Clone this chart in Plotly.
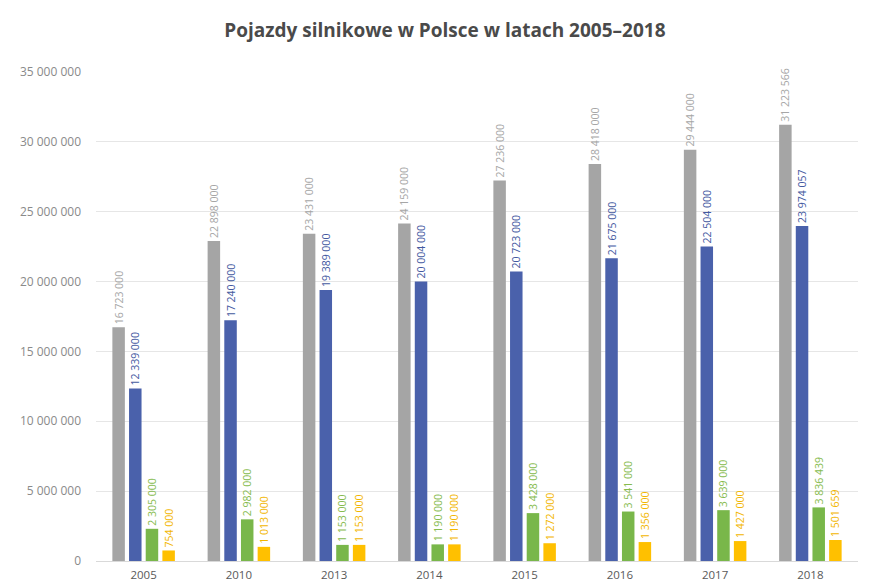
import plotly.graph_objects as go

# Lata i liczby pojazdów
years = ["2005", "2010", "2013", "2014", "2015", "2016", "2017", "2018"]
total = [16723000, 22898000, 23431000, 24159000, 27236000, 28418000, 29444000, 31223566]
cars = [12339000, 17240000, 19389000, 20004000, 20723000, 21675000, 22504000, 23974057]
trucks = [2305000, 2982000, 1153000, 1190000, 3428000, 3541000, 3639000, 3836439]
motorcycles = [754000, 1013000, 1153000, 1190000, 1272000, 1356000, 1427000, 1501659]

y_ticks = [0, 5000000, 10000000, 15000000, 20000000, 25000000, 30000000, 35000000]


def fmt(v):
    return f"{v:,}".replace(",", " ")


series = [
    (total, "#a5a5a5", "#a6a6a6"),
    (cars, "#4a61ab", "#44599f"),
    (trucks, "#79b74a", "#86bb4e"),
    (motorcycles, "#ffc000", "#f2b600"),
]

fig = go.Figure()
for values, bar_color, text_color in series:
    fig.add_trace(go.Bar(
        x=years,
        y=values,
        marker=dict(color=bar_color, line=dict(width=0)),
        text=[fmt(v) for v in values],
        textposition="outside",
        textangle=-90,
        textfont=dict(color=text_color, size=10.5, family="Open Sans"),
        cliponaxis=False,
        constraintext="none",
        showlegend=False,
    ))

fig.update_layout(
    width=869,
    height=588,
    paper_bgcolor="white",
    plot_bgcolor="white",
    barmode="group",
    bargap=0.3,
    bargroupgap=0.25,
    margin=dict(l=96, r=11, t=72, b=27),
    title=dict(
        text="<b>Pojazdy silnikowe w Polsce w latach 2005–2018</b>",
        x=0.512,
        xanchor="center",
        y=0.948,
        yanchor="middle",
        font=dict(family="Open Sans", size=19, color="#4a4a4a"),
    ),
    font=dict(family="Open Sans"),
)

fig.update_yaxes(
    range=[0, 35000000],
    tickvals=y_ticks,
    ticktext=[fmt(v) for v in y_ticks],
    tickfont=dict(size=12, color="#8a8a8a"),
    showgrid=True,
    gridcolor="#e6e6e6",
    gridwidth=1,
    zeroline=True,
    zerolinecolor="#d9d9d9",
    zerolinewidth=1,
    ticklabelstandoff=14,
    automargin=False,
)
fig.update_xaxes(
    tickfont=dict(size=11.5, color="#595959"),
    showline=False,
    ticks="",
    ticklabelstandoff=5,
    automargin=False,
)

fig.write_html("out.html")
